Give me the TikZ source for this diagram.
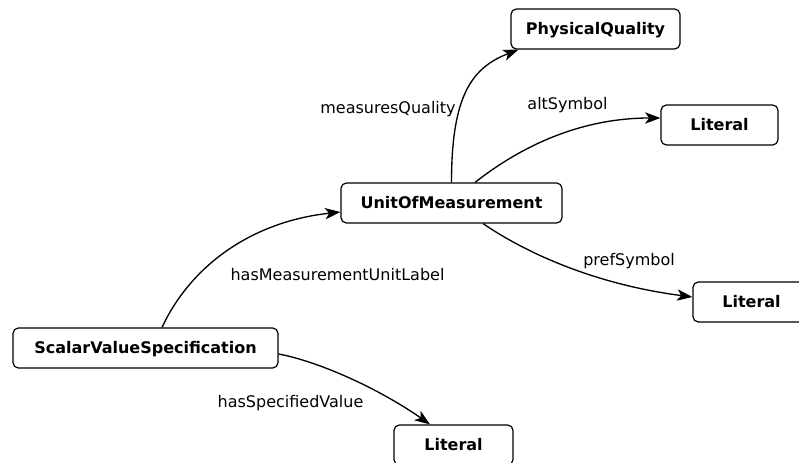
\documentclass[tikz,border=0pt]{standalone}
\usepackage{fontspec}
\setmainfont{DejaVu Sans}
\usetikzlibrary{arrows.meta,calc}

\tikzset{
  cls/.style={draw, line width=0.9pt, rounded corners=4pt, inner sep=0pt,
    minimum height=30pt, text height=8.8pt, text depth=0pt,
    font=\fontsize{12}{14}\selectfont\bfseries},
  rel/.style={line width=1pt, -{Stealth[length=11.5pt, width=8.5pt, inset=3pt]}},
  lbl/.style={inner sep=0pt, anchor=base, font=\fontsize{12}{14}\selectfont}
}

\begin{document}
\begin{tikzpicture}[x=0.75pt, y=-0.75pt]
  \useasboundingbox (0,0) rectangle (799,463);
  \clip (0,0) rectangle (799,463);

  % classes
  \node[cls, minimum width=126.75pt] (pq)   at (595.5,29)  {PhysicalQuality};
  \node[cls, minimum width=165.75pt] (uom)  at (451.5,203) {UnitOfMeasurement};
  \node[cls, minimum width=198.75pt] (svs)  at (145.5,348) {ScalarValueSpecification};
  \node[cls, minimum width=87.75pt]  (lita) at (719.5,125) {Literal};
  \node[cls, minimum width=87.75pt]  (litp) at (751.5,302) {Literal};
  \node[cls, minimum width=89.25pt]  (lits) at (453.5,445) {Literal};

  % properties
  \draw[rel] (uom.north) .. controls ($(uom.north)+(0,-88)$) and ($(pq.south west)+(-38,18)$) .. ($(pq.south west)+(8,0)$);
  \draw[rel] ($(uom.north)+(23.5,0)$) .. controls ($(uom.north)+(78.5,-43)$) and ($(lita.west)+(-71,-7)$) .. ($(lita.west)+(0,-7)$);
  \draw[rel] ($(uom.south)+(31.5,0)$) .. controls ($(uom.south)+(78.5,32)$) and ($(litp.west)+(-93,-17)$) .. ($(litp.west)+(0,-5)$);
  \draw[rel] ($(svs.north)+(16.5,0)$) .. controls ($(svs.north)+(44.5,-60)$) and ($(uom.west)+(-91,19)$) .. ($(uom.west)+(0,9)$);
  \draw[rel] ($(svs.east)+(0,6)$) .. controls ($(svs.east)+(42,14)$) and ($(lits.north)+(-73.5,-35)$) .. ($(lits.north)+(-23.5,0)$);

  % property names
  \node[lbl] (lmq) at (388,114)   {measuresQuality};
  \node[lbl] (las) at (567.5,110) {altSymbol};
  \node[lbl] (lps) at (629,266)   {prefSymbol};
  \node[lbl] (lmu) at (337.5,281) {hasMeasurementUnitLabel};
  \node[lbl] (lsv) at (290.5,407) {hasSpecifiedValue};
\end{tikzpicture}
\end{document}
